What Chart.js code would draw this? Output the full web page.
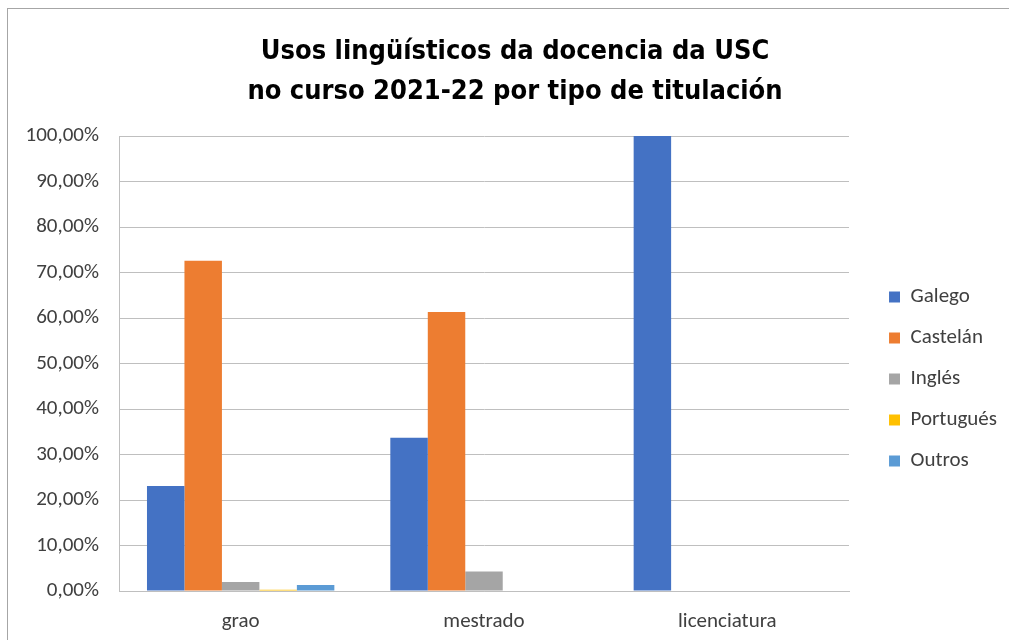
<!DOCTYPE html>
<html lang="gl">
<head>
<meta charset="utf-8">
<title>Usos lingüísticos da docencia da USC</title>
<script src="https://cdn.jsdelivr.net/npm/chart.js@4.4.1/dist/chart.umd.min.js"></script>
<style>
  html, body { margin: 0; padding: 0; background: #fff; overflow: hidden; }
  #marco {
    position: absolute; left: 7px; top: 8px;
    width: 1040px; height: 660px;
    border: 1px solid #a6a6a6;
  }
  #grafico { display: block; }
</style>
</head>
<body>
<div id="marco"><canvas id="grafico" width="1014" height="631"></canvas></div>
<script>
const titulacions = ["grao", "mestrado", "licenciatura"];
const galego    = [23.1, 33.7, 100];
const castelan  = [72.6, 61.3, 0];
const ingles    = [2.0, 4.3, 0];
const portugues = [0.3, 0, 0];
const outros    = [1.3, 0, 0];
const marcasY   = [0, 10, 20, 30, 40, 50, 60, 70, 80, 90, 100];

document.addEventListener("DOMContentLoaded", () => {
  const corTexto = "#404040";
  const fonteTexto = { family: "Carlito, Lato, sans-serif", size: 21 };
  const marxe = 15; // marxe lateral para colocar a lenda

  const series = [
    { label: "Galego",    data: galego,    backgroundColor: "#4472c4" },
    { label: "Castelán",  data: castelan,  backgroundColor: "#ed7d31" },
    { label: "Inglés",    data: ingles,    backgroundColor: "#a5a5a5" },
    { label: "Portugués", data: portugues, backgroundColor: "#ffc000" },
    { label: "Outros",    data: outros,    backgroundColor: "#5b9bd5" }
  ];

  const ctx = document.getElementById("grafico").getContext("2d");
  new Chart(ctx, {
    type: "bar",
    data: {
      labels: titulacions,
      datasets: series.map(s => ({
        ...s,
        borderWidth: 0,
        categoryPercentage: 0.77,
        barPercentage: 1
      }))
    },
    options: {
      responsive: false,
      animation: false,
      layout: { padding: { left: marxe, right: marxe, top: 0, bottom: 0 } },
      plugins: {
        title: {
          display: true,
          text: ["Usos lingüísticos da docencia da USC", "no curso 2021-22 por tipo de titulación"],
          color: "#000",
          font: { family: "'Liberation Sans Narrow', 'DejaVu Sans Condensed', sans-serif", size: 27, weight: "bold", lineHeight: 40 / 27 },
          padding: { top: 23, bottom: 24 }
        },
        legend: {
          position: "right",
          title: { display: true, text: "", font: { size: 10, lineHeight: 1 }, padding: { top: 50, bottom: 49 } },
          labels: {
            color: corTexto,
            font: fonteTexto,
            boxWidth: 11,
            boxHeight: 11,
            padding: 20
          }
        },
        tooltip: { enabled: false }
      },
      scales: {
        x: {
          grid: { display: false },
          border: { color: "#bfbfbf" },
          ticks: { color: corTexto, font: fonteTexto, padding: 10 },
          afterFit: s => { s.height = 49; }
        },
        y: {
          min: 0,
          max: 100,
          afterBuildTicks: s => { s.ticks = marcasY.map(v => ({ value: v })); },
          grid: { color: "#bfbfbf", drawTicks: false },
          border: { color: "#bfbfbf" },
          ticks: {
            color: corTexto,
            font: fonteTexto,
            padding: 20,
            callback: v => v.toFixed(2).replace(".", ",") + "%"
          },
          afterFit: s => { s.width = 111 - marxe; }
        },
        // escala baleira só para separar a lenda da área do gráfico
        oco: {
          position: "right",
          display: true,
          grid: { display: false },
          border: { display: false },
          ticks: { display: false },
          afterFit: s => { s.width = Math.max(0, 1014 - marxe - s.chart.legend.width - 841); }
        }
      }
    }
  });
});
</script>
</body>
</html>
